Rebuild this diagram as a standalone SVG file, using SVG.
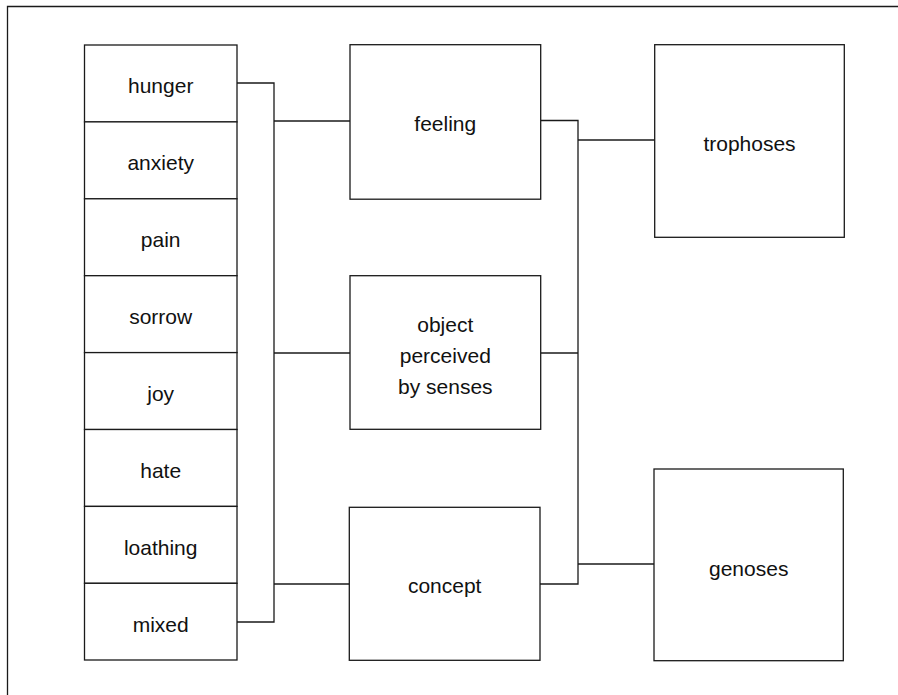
<svg xmlns="http://www.w3.org/2000/svg" width="898" height="695" viewBox="0 0 898 695">
<style>
.box{fill:#fff;stroke:#1a1a1a;stroke-width:1.3}
.ln{fill:none;stroke:#1a1a1a;stroke-width:1.3}
text{font-family:"Liberation Sans",Arial,sans-serif;font-size:21px;fill:#111;text-anchor:middle}
</style>
<rect width="898" height="695" fill="#fff"/>
<path class="ln" d="M7.5,695 V6.5 H898"/>
<g id="connectors">
<path class="ln" d="M237,83 H274 V622 H237"/>
<path class="ln" d="M274,121 H350"/>
<path class="ln" d="M274,353 H350"/>
<path class="ln" d="M274,584 H349"/>
<path class="ln" d="M541,120.5 H578 V584 H540"/>
<path class="ln" d="M541,353 H578"/>
<path class="ln" d="M578,140 H655"/>
<path class="ln" d="M578,564 H654"/>
</g>
<g id="hunger"><rect class="box" x="84.5" y="45" width="152.5" height="76.9"/><text x="160.7" y="93">hunger</text></g>
<g id="anxiety"><rect class="box" x="84.5" y="121.9" width="152.5" height="76.9"/><text x="160.7" y="170">anxiety</text></g>
<g id="pain"><rect class="box" x="84.5" y="198.8" width="152.5" height="76.9"/><text x="160.7" y="247">pain</text></g>
<g id="sorrow"><rect class="box" x="84.5" y="275.7" width="152.5" height="76.9"/><text x="160.7" y="324">sorrow</text></g>
<g id="joy"><rect class="box" x="84.5" y="352.6" width="152.5" height="76.9"/><text x="160.7" y="401">joy</text></g>
<g id="hate"><rect class="box" x="84.5" y="429.5" width="152.5" height="76.9"/><text x="160.7" y="478">hate</text></g>
<g id="loathing"><rect class="box" x="84.5" y="506.4" width="152.5" height="76.9"/><text x="160.7" y="555">loathing</text></g>
<g id="mixed"><rect class="box" x="84.5" y="583.3" width="152.5" height="76.7"/><text x="160.7" y="632">mixed</text></g>
<g id="feeling"><rect class="box" x="350" y="44.7" width="190.7" height="154.5"/><text x="445.3" y="130.5">feeling</text></g>
<g id="object"><rect class="box" x="350" y="275.7" width="190.7" height="153.6"/><text x="445.3" y="331.5">object</text><text x="445.3" y="363">perceived</text><text x="445.3" y="394">by senses</text></g>
<g id="concept"><rect class="box" x="349.3" y="507.3" width="190.7" height="153"/><text x="444.7" y="593">concept</text></g>
<g id="trophoses"><rect class="box" x="654.7" y="44.7" width="189.6" height="192.6"/><text x="749.5" y="150.5">trophoses</text></g>
<g id="genoses"><rect class="box" x="654" y="469" width="189.3" height="191.7"/><text x="748.7" y="575.5">genoses</text></g>
</svg>
